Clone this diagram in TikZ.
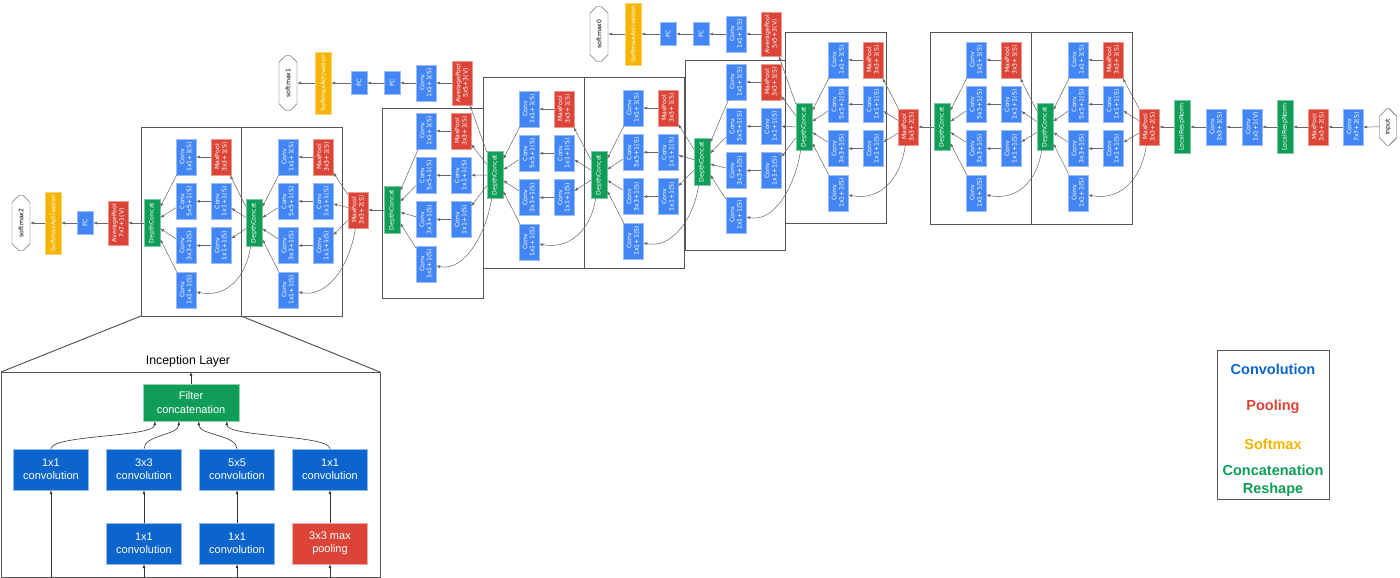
\documentclass[tikz,border=0pt]{standalone}
\usepackage{fontspec}
\setmainfont{Liberation Sans}
\newfontfamily\nodefont{DejaVu Sans}
\usepackage{xcolor}
\usetikzlibrary{shapes.misc,arrows.meta,positioning,calc}
\definecolor{convblue}{RGB}{66,133,244}
\definecolor{poolred}{RGB}{219,68,55}
\definecolor{catgreen}{RGB}{15,157,88}
\definecolor{softyellow}{RGB}{244,180,0}
\definecolor{inblue}{RGB}{12,101,204}
\definecolor{framegray}{RGB}{85,85,85}

\tikzset{
  layer/.style={rotate=90, draw=#1!55!white, fill=#1, text=white, inner sep=1pt, align=center,
    font=\nodefont\fontsize{6.2}{7.2}\selectfont, minimum width=36pt, minimum height=20pt},
  conv/.style={layer=convblue},
  pool/.style={layer=poolred},
  avgpool/.style={layer=poolred, minimum width=44pt},
  concat/.style={layer=catgreen, minimum width=47pt, minimum height=16pt},
  lrn/.style={layer=catgreen, minimum width=53pt, minimum height=16pt},
  fc/.style={layer=convblue, minimum width=23pt, minimum height=16pt},
  softact/.style={layer=softyellow, minimum width=62pt, minimum height=16pt},
  term/.style={rotate=90, chamfered rectangle, chamfered rectangle xsep=4pt, draw=black!75, fill=white,
    inner sep=1pt, font=\nodefont\fontsize{6.2}{7.2}\selectfont, minimum width=#1, minimum height=18pt},
  term/.default=55pt,
  edge/.style={draw=black!60, line width=0.5pt, -{Latex[length=4pt,width=3pt]}},
  module/.style={draw=framegray, line width=1pt},
  inbox/.style={draw=#1!45!white, fill=#1, text=white, align=center, inner sep=1pt,
    font=\fontsize{11}{13.3}\selectfont, minimum width=75pt, minimum height=41pt},
  inedge/.style={draw=black!80, line width=0.6pt, -{Latex[length=4pt,width=3pt]}},
  legend/.style={font=\bfseries\fontsize{14.5}{18}\selectfont, align=center}
}

\begin{document}
\begin{tikzpicture}[x=1pt,y=-1pt]
\useasboundingbox (0,0) rectangle (1400,578);

% stem
\node[term=37pt, minimum height=17pt] (input) at (1388,127) {input};
\node[conv] (conv1) at (1353,127) {Conv\\7x7+2(S)};
\node[pool] (pool1) at (1318,127) {MaxPool\\3x3+2(S)};
\node[lrn] (norm1) at (1285,127) {LocalRespNorm};
\node[conv] (conv2r) at (1252,127) {Conv\\1x1+1(V)};
\node[conv] (conv2) at (1216,127) {Conv\\3x3+1(S)};
\node[lrn] (norm2) at (1182,127) {LocalRespNorm};
\node[pool] (pool2) at (1149,127) {MaxPool\\3x3+2(S)};
\node[pool] (pool3) at (908,127) {MaxPool\\3x3+2(S)};
\node[pool] (pool4) at (358,210) {MaxPool\\3x3+2(S)};

\draw[edge] (input) -- (conv1);
\draw[edge] (conv1) -- (pool1);
\draw[edge] (pool1) -- (norm1);
\draw[edge] (norm1) -- (conv2r);
\draw[edge] (conv2r) -- (conv2);
\draw[edge] (conv2) -- (norm2);
\draw[edge] (norm2) -- (pool2);

% inception modules
\foreach \m/\src/\dx/\dy/\lx/\rx/\ry/\bl/\bt/\br/\bb in {
  3a/pool2/1045/127/1078/1113/60/1031/33/1132/224,
  3b/dc3a/942/127/976/1011/60/930/33/1031/224,
  4a/pool3/804/127/838/873/60/785/33/886/223,
  4b/dc4a/702/162/736/771/82/685/61/785/250,
  4c/dc4b/599/175/633/668/108/584/78/684/268,
  4d/dc4c/495/175/529/564/109/483/78/584/268,
  4e/dc4d/392/210/426/461/131/382/108/483/298,
  5a/pool4/254/223/288/323/157/241/127/342/316,
  5b/dc5a/152/223/186/221/157/141/127/241/316}
{
  \draw[module] (\bl,\bt) rectangle (\br,\bb);
  \node[concat] (dc\m) at (\dx,\dy) {DepthConcat};
  \node[conv] (one\m) at (\lx,\ry) {Conv\\1x1+1(S)};
  \node[conv] (five\m) at (\lx,{\ry+44.3}) {Conv\\5x5+1(S)};
  \node[conv] (three\m) at (\lx,{\ry+88.6}) {Conv\\3x3+1(S)};
  \node[conv] (proj\m) at (\lx,{\ry+132.9}) {Conv\\1x1+1(S)};
  \node[pool] (mp\m) at (\rx,\ry) {MaxPool\\3x3+1(S)};
  \node[conv] (red5\m) at (\rx,{\ry+44.3}) {Conv\\1x1+1(S)};
  \node[conv] (red3\m) at (\rx,{\ry+88.6}) {Conv\\1x1+1(S)};
  \draw[edge] (\src) -- (mp\m);
  \draw[edge] (\src) -- (red5\m);
  \draw[edge] (\src) -- (red3\m);
  \draw[edge] (\src) .. controls +(-8,55) and +(40,8) .. (proj\m);
  \draw[edge] (mp\m) -- (one\m);
  \draw[edge] (red5\m) -- (five\m);
  \draw[edge] (red3\m) -- (three\m);
  \foreach \k in {one,five,three,proj}
    \draw[edge] (\k\m) -- (dc\m);
}
\draw[edge] (dc3b) -- (pool3);
\draw[edge] (dc4e) -- (pool4);

% softmax0
\node[avgpool] (avg0) at (771,34) {AveragePool\\5x5+3(V)};
\node[conv] (conv0) at (736,34) {Conv\\1x1+1(S)};
\node[fc] (fc0a) at (701,34) {FC};
\node[fc] (fc0b) at (668,34) {FC};
\node[softact] (act0) at (633,34) {SoftmaxActivation};
\node[term] (out0) at (599,34) {softmax0};
\draw[edge] (dc4a) -- (avg0);
\draw[edge] (avg0) -- (conv0);
\draw[edge] (conv0) -- (fc0a);
\draw[edge] (fc0a) -- (fc0b);
\draw[edge] (fc0b) -- (act0);
\draw[edge] (act0) -- (out0);

% softmax1
\node[avgpool] (avg1) at (462,83) {AveragePool\\5x5+3(V)};
\node[conv] (conv1x) at (426,83) {Conv\\1x1+1(S)};
\node[fc] (fc1a) at (392,83) {FC};
\node[fc] (fc1b) at (359,83) {FC};
\node[softact] (act1) at (323,83) {SoftmaxActivation};
\node[term] (out1) at (288,83) {softmax1};
\draw[edge] (dc4d) -- (avg1);
\draw[edge] (avg1) -- (conv1x);
\draw[edge] (conv1x) -- (fc1a);
\draw[edge] (fc1a) -- (fc1b);
\draw[edge] (fc1b) -- (act1);
\draw[edge] (act1) -- (out1);

% softmax2
\node[avgpool] (avg2) at (118,223) {AveragePool\\7x7+1(V)};
\node[fc] (fc2) at (85,223) {FC};
\node[softact] (act2) at (53,223) {SoftmaxActivation};
\node[term] (out2) at (21,223) {softmax2};
\draw[edge] (dc5b) -- (avg2);
\draw[edge] (avg2) -- (fc2);
\draw[edge] (fc2) -- (act2);
\draw[edge] (act2) -- (out2);

% inception layer detail
\coordinate (zl) at (141,316);
\coordinate (zr) at (241,316);
\coordinate (il) at (1,372);
\coordinate (ir) at (380,372);
\draw[module] (zl) -- (il);
\draw[module] (zr) -- (ir);
\draw[module] (il) -- (1,577) -- (380,577) -- (ir) -- cycle;
\node[font=\fontsize{12.3}{14}\selectfont] (title) at (188,361) {Inception Layer};
\coordinate (lay) at (191,372);
\node[inbox=catgreen, minimum width=96pt, minimum height=37pt] (filt) at (191,402.5) {Filter\\concatenation};
\node[inbox=inblue] (i11) at (51,469.5) {1x1\\convolution};
\node[inbox=inblue] (i33) at (144,469.5) {3x3\\convolution};
\node[inbox=inblue] (i55) at (237,469.5) {5x5\\convolution};
\node[inbox=inblue] (ipp) at (330,469.5) {1x1\\convolution};
\node[inbox=inblue] (ir3) at (144,543.5) {1x1\\convolution};
\node[inbox=inblue] (ir5) at (237,543.5) {1x1\\convolution};
\node[inbox=poolred] (imp) at (330,543.5) {3x3 max\\pooling};
\coordinate (b0) at (51,578);
\coordinate (b1) at (144,578);
\coordinate (b2) at (237,578);
\coordinate (b3) at (330,578);

\draw[inedge] (filt) -- (lay);
\draw[inedge] (i11.north) .. controls +(0,-14) and +(0,16) .. ([xshift=12pt]filt.south west);
\draw[inedge] (i33.north) .. controls +(0,-14) and +(0,14) .. ([xshift=36pt]filt.south west);
\draw[inedge] (i55.north) .. controls +(0,-14) and +(0,14) .. ([xshift=56pt]filt.south west);
\draw[inedge] (ipp.north) .. controls +(0,-14) and +(0,16) .. ([xshift=84pt]filt.south west);
\draw[inedge] (ir3) -- (i33);
\draw[inedge] (ir5) -- (i55);
\draw[inedge] (imp) -- (ipp);
\draw[inedge] (b0) -- (i11);
\draw[inedge] (b1) -- (ir3);
\draw[inedge] (b2) -- (ir5);
\draw[inedge] (b3) -- (imp);

% legend
\draw[draw=framegray, line width=0.8pt] (1217,350) rectangle (1329,499);
\node[legend, text=inblue] (lconv) at (1273,369) {Convolution};
\node[legend, text=poolred] (lpool) at (1273,407) {Pooling};
\node[legend, text=softyellow] (lsoft) at (1273,444) {Softmax};
\node[legend, text=catgreen] (lcat) at (1273,481) {Concatenation\\Reshape};
\end{tikzpicture}
\end{document}
